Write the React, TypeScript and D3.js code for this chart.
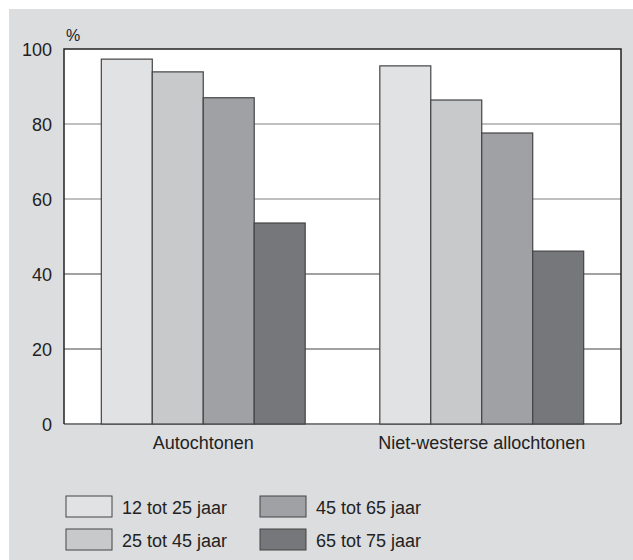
import React from 'react';
import * as d3 from 'd3';

const groups = ['Autochtonen', 'Niet-westerse allochtonen'];
const ageGroups = ['12 tot 25 jaar', '25 tot 45 jaar', '45 tot 65 jaar', '65 tot 75 jaar'];
const autochtonen = [97.3, 93.9, 87, 53.6];
const nietWesters = [95.5, 86.4, 77.6, 46.1];
const yTicks = [0, 20, 40, 60, 80, 100];
const fills = ['#e1e2e4', '#c8c9cb', '#a0a1a4', '#76777b'];

const W = 633;
const H = 560;
const margin = { left: 64, right: 12, top: 49, bottom: 136 };
const font = '"Liberation Sans", Arial, sans-serif';

const App = () => {
  const x0 = d3.scaleBand().domain(groups).range([margin.left, W - margin.right]).paddingInner(0.268).paddingOuter(0.134);
  const x1 = d3.scaleBand().domain(ageGroups).range([0, x0.bandwidth()]);
  const y = d3.scaleLinear().domain([0, 100]).range([H - margin.bottom, margin.top]);
  const series = [autochtonen, nietWesters];

  return (
    <svg width={W} height={H} style={{ position: 'absolute', left: 0, top: 0 }} fontFamily={font}>
      <rect x={9} y={9} width={W - 9} height={H - 9} fill="#dcdddf" />
      {/* title line above the panel, cut off in the reference */}
      <text x={40} y={3} fontSize={15} fontWeight="bold" fill="#333">leeftijd, 2006</text>
      <rect x={9} y={0} width={W} height={9} fill="#fff" />

      <rect x={margin.left} y={y(100)} width={W - margin.right - margin.left} height={y(0) - y(100)} fill="#fff" />
      {yTicks.filter(t => t > 0 && t < 100).map(t => (
        <line key={t} x1={margin.left} x2={W - margin.right} y1={y(t)} y2={y(t)} stroke={t >= 60 ? '#808080' : '#444'} strokeWidth={1.2} />
      ))}
      <line x1={margin.left} x2={W - margin.right} y1={y(0)} y2={y(0)} stroke="#808080" strokeWidth={2} />
      <path d={`M${margin.left},${y(0)}V${y(100)}H${W - margin.right}V${y(0)}`} fill="none" stroke="#222" strokeWidth={1.5} />

      {groups.map((g, gi) => (
        <g key={g}>
          {series[gi].map((v, i) => (
            <rect key={i} x={x0(g)! + x1(ageGroups[i])!} y={y(v)} width={x1.bandwidth()} height={y(0) - y(v)}
              fill={fills[i]} stroke="#444" strokeWidth={1.2} />
          ))}
          <text x={x0(g)! + x0.bandwidth() / 2} y={y(0) + 25} textAnchor="middle" fontSize={18} fill="#222">{g}</text>
        </g>
      ))}

      {yTicks.map(t => (
        <text key={t} x={52} y={y(t) + 6.5} textAnchor="end" fontSize={18} fill="#222">{t}</text>
      ))}
      <text x={66} y={41} fontSize={16} fill="#222">%</text>

      {ageGroups.map((a, i) => {
        const col = Math.floor(i / 2);
        const row = i % 2;
        const lx = 66 + col * 194;
        const ly = 496 + row * 33;
        return (
          <g key={a}>
            <rect x={lx} y={ly} width={46} height={21} fill={fills[i]} stroke="#444" strokeWidth={1} />
            <text x={lx + 56} y={ly + 18} fontSize={18} fill="#222">{a}</text>
          </g>
        );
      })}
    </svg>
  );
};

export default App;
